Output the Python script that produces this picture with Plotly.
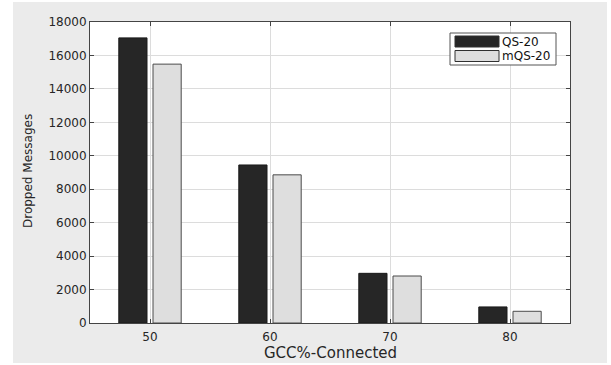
import plotly.graph_objects as go

# GCC% connected levels and dropped-message counts per scheme
gcc_levels = [50, 60, 70, 80]
qs20_dropped = [17050, 9450, 2970, 960]
mqs20_dropped = [15480, 8860, 2810, 700]
series_names = ["QS-20", "mQS-20"]
y_ticks = [0, 2000, 4000, 6000, 8000, 10000, 12000, 14000, 16000, 18000]
x_title = "GCC%-Connected"
y_title = "Dropped Messages"

W, H = 611, 365
ML, MR, MT, MB = 90, 41, 22, 42
PW, PH = W - ML - MR, H - MT - MB

FONT = "DejaVu Sans, Liberation Sans, Arial, sans-serif"
TXT = "#262626"
DARK = "#262626"
LIGHT = "#dedede"
EDGE = "#303030"


def px(x):
    return (x - ML) / PW


def py(y):
    return (H - MB - y) / PH


bar_w = 2.35
fig = go.Figure()
fig.add_trace(go.Bar(x=gcc_levels, y=qs20_dropped, name=series_names[0],
                     width=bar_w, offset=-2.6,
                     marker=dict(color=DARK, line=dict(color="#1a1a1a", width=1))))
fig.add_trace(go.Bar(x=gcc_levels, y=mqs20_dropped, name=series_names[1],
                     width=bar_w, offset=0.25,
                     marker=dict(color=LIGHT, line=dict(color="#4a4a4a", width=1))))

# white page edges around the gray figure panel
shapes = []
for x0, x1, y0, y1 in [(0, 13, 0, H), (607, W, 0, H), (0, W, 0, 2), (0, W, 363, H)]:
    shapes.append(dict(type="rect", xref="paper", yref="paper",
                       x0=px(x0), x1=px(x1), y0=py(y1), y1=py(y0),
                       fillcolor="white", line=dict(width=0), layer="below"))

# axis titles
annotations = [
    dict(x=0.5, y=py(353), xref="paper", yref="paper", text=x_title,
         showarrow=False, xanchor="center", yanchor="middle",
         font=dict(family=FONT, size=15, color=TXT)),
    dict(x=px(28), y=py(171), xref="paper", yref="paper", text=y_title,
         showarrow=False, xanchor="center", yanchor="middle", textangle=-90,
         font=dict(family=FONT, size=12, color=TXT)),
]

# legend box with wide swatches
shapes.append(dict(type="rect", xref="paper", yref="paper", x0=px(450), x1=px(556),
                   y0=py(65), y1=py(33), fillcolor="white",
                   line=dict(color="#555555", width=1)))
for i, (name, col) in enumerate(zip(series_names, [DARK, LIGHT])):
    top = 36 + i * 14.5
    shapes.append(dict(type="rect", xref="paper", yref="paper",
                       x0=px(455), x1=px(499), y0=py(top + 11), y1=py(top),
                       fillcolor=col, line=dict(color=EDGE, width=1)))
    annotations.append(dict(x=px(500), y=py(top + 5.5), xref="paper", yref="paper",
                            text=name, showarrow=False, xanchor="left",
                            yanchor="middle",
                            font=dict(family=FONT, size=12, color="#111111")))

fig.update_layout(
    width=W, height=H,
    margin=dict(l=ML, r=MR, t=MT, b=MB, autoexpand=False),
    paper_bgcolor="#ebebeb", plot_bgcolor="white",
    showlegend=False,
    font=dict(family=FONT, size=12, color=TXT),
    shapes=shapes, annotations=annotations,
    xaxis=dict(range=[45, 85], tickvals=gcc_levels, ticktext=[str(v) for v in gcc_levels],
               showgrid=True, gridcolor="#dcdcdc", gridwidth=1,
               ticks="inside", ticklen=4, tickcolor="#444444",
               showline=True, linecolor="#444444", linewidth=1, mirror="ticks",
               zeroline=False, automargin=False, ticklabelstandoff=3,
               tickfont=dict(family=FONT, size=12, color=TXT)),
    yaxis=dict(range=[0, 18000], tickvals=y_ticks, ticktext=[str(v) for v in y_ticks],
               showgrid=True, gridcolor="#dcdcdc", gridwidth=1,
               ticks="inside", ticklen=4, tickcolor="#444444",
               showline=True, linecolor="#444444", linewidth=1, mirror="ticks",
               zeroline=False, automargin=False,
               tickfont=dict(family=FONT, size=12, color=TXT)),
)

fig.write_html("out.html")
